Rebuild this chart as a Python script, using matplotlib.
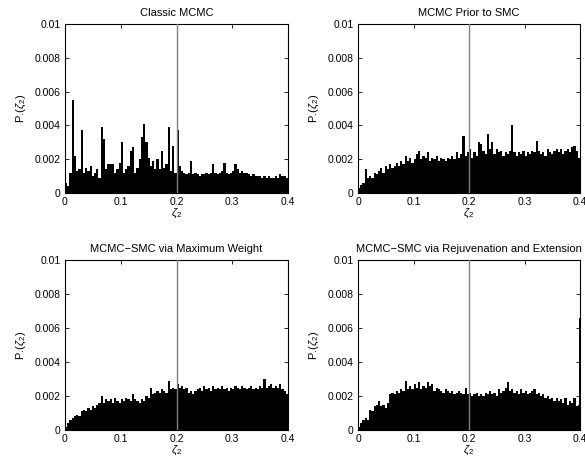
import numpy as np
import matplotlib
matplotlib.use('Agg')
import matplotlib.pyplot as plt
from matplotlib.ticker import FixedLocator, FixedFormatter

plt.rcParams['font.family'] = ['Liberation Sans', 'DejaVu Sans']
plt.rcParams['mathtext.fontset'] = 'custom'
plt.rcParams['mathtext.rm'] = 'Liberation Sans'
plt.rcParams['mathtext.it'] = 'Liberation Sans:italic'

# ---------------- data ----------------
titles = ['Classic MCMC', 'MCMC Prior to SMC',
          'MCMC\u2212SMC via Maximum Weight',
          'MCMC\u2212SMC via Rejuvenation and Extension']

bin_width = 0.004
x_start = 0.0

classic_mcmc = [
    0.0006, 0.0004, 0.0012, 0.0055, 0.0022, 0.0013, 0.0014, 0.0037, 0.0012, 0.0015,
    0.0013, 0.0016, 0.0010, 0.0012, 0.0014, 0.0009, 0.0039, 0.0032, 0.0014, 0.0017,
    0.0017, 0.0017, 0.0012, 0.0014, 0.0018, 0.0030, 0.0012, 0.0014, 0.0016, 0.0025,
    0.0027, 0.0012, 0.0015, 0.0020, 0.0033, 0.0041, 0.0030, 0.0021, 0.0016, 0.0019,
    0.0014, 0.0020, 0.0014, 0.0025, 0.0015, 0.0017, 0.0039, 0.0013, 0.0028, 0.0012,
    0.0037, 0.0016, 0.0013, 0.0012, 0.0011, 0.0012, 0.0019, 0.0011, 0.0012, 0.0011,
    0.0010, 0.0011, 0.0011, 0.0012, 0.0011, 0.0012, 0.0017, 0.0012, 0.0011, 0.0012,
    0.0013, 0.0018, 0.0012, 0.0011, 0.0012, 0.0013, 0.0017, 0.0014, 0.0012, 0.0013,
    0.0012, 0.0012, 0.0011, 0.0010, 0.0011, 0.0010, 0.0010, 0.0010, 0.0009, 0.0010,
    0.0009, 0.0010, 0.0009, 0.0009, 0.0010, 0.0009, 0.0011, 0.0010, 0.0010, 0.0009,
]

mcmc_prior_smc = [
    0.0003, 0.0005, 0.0006, 0.0014, 0.0009, 0.0010, 0.0009, 0.0012, 0.0011, 0.0013,
    0.0015, 0.0012, 0.0016, 0.0014, 0.0017, 0.0015, 0.0016, 0.0018, 0.0016, 0.0019,
    0.0017, 0.0022, 0.0019, 0.0021, 0.0018, 0.0020, 0.0023, 0.0025, 0.0020, 0.0022,
    0.0021, 0.0024, 0.0019, 0.0021, 0.0020, 0.0022, 0.0019, 0.0021, 0.0020, 0.0019,
    0.0021, 0.0020, 0.0022, 0.0020, 0.0024, 0.0021, 0.0023, 0.0034, 0.0022, 0.0024,
    0.0026, 0.0021, 0.0024, 0.0022, 0.0030, 0.0029, 0.0025, 0.0023, 0.0035, 0.0026,
    0.0030, 0.0023, 0.0026, 0.0024, 0.0025, 0.0022, 0.0024, 0.0023, 0.0025, 0.0040,
    0.0024, 0.0022, 0.0024, 0.0023, 0.0025, 0.0022, 0.0024, 0.0023, 0.0025, 0.0024,
    0.0031, 0.0025, 0.0023, 0.0024, 0.0022, 0.0026, 0.0024, 0.0023, 0.0025, 0.0026,
    0.0024, 0.0026, 0.0023, 0.0025, 0.0026, 0.0024, 0.0027, 0.0028, 0.0025, 0.0021,
]

smc_max_weight = [
    0.0002, 0.0004, 0.0006, 0.0007, 0.0008, 0.0009, 0.0008, 0.0011, 0.0012, 0.0011,
    0.0013, 0.0012, 0.0014, 0.0013, 0.0015, 0.0016, 0.0020, 0.0016, 0.0018, 0.0017,
    0.0018, 0.0016, 0.0019, 0.0017, 0.0016, 0.0018, 0.0017, 0.0019, 0.0018, 0.0017,
    0.0021, 0.0018, 0.0017, 0.0016, 0.0018, 0.0017, 0.0020, 0.0019, 0.0025, 0.0021,
    0.0022, 0.0023, 0.0022, 0.0024, 0.0023, 0.0022, 0.0029, 0.0024, 0.0025, 0.0024,
    0.0027, 0.0025, 0.0026, 0.0024, 0.0025, 0.0022, 0.0023, 0.0021, 0.0023, 0.0024,
    0.0025, 0.0023, 0.0026, 0.0024, 0.0025, 0.0023, 0.0026, 0.0024, 0.0025, 0.0024,
    0.0026, 0.0024, 0.0025, 0.0023, 0.0025, 0.0024, 0.0026, 0.0025, 0.0024, 0.0026,
    0.0025, 0.0024, 0.0025, 0.0026, 0.0024, 0.0025, 0.0024, 0.0026, 0.0025, 0.0030,
    0.0025, 0.0026, 0.0027, 0.0025, 0.0026, 0.0025, 0.0027, 0.0024, 0.0023, 0.0021,
]

smc_rejuv_ext = [
    0.0002, 0.0004, 0.0006, 0.0007, 0.0006, 0.0012, 0.0011, 0.0014, 0.0015, 0.0017,
    0.0014, 0.0015, 0.0013, 0.0016, 0.0021, 0.0022, 0.0021, 0.0023, 0.0022, 0.0024,
    0.0023, 0.0029, 0.0024, 0.0026, 0.0024, 0.0027, 0.0025, 0.0028, 0.0024, 0.0026,
    0.0025, 0.0028, 0.0026, 0.0027, 0.0023, 0.0025, 0.0024, 0.0023, 0.0022, 0.0024,
    0.0023, 0.0022, 0.0023, 0.0021, 0.0022, 0.0023, 0.0022, 0.0021, 0.0025, 0.0021,
    0.0022, 0.0020, 0.0021, 0.0022, 0.0020, 0.0021, 0.0020, 0.0022, 0.0021, 0.0023,
    0.0021, 0.0022, 0.0020, 0.0024, 0.0022, 0.0023, 0.0025, 0.0028, 0.0023, 0.0024,
    0.0022, 0.0023, 0.0021, 0.0024, 0.0022, 0.0023, 0.0021, 0.0022, 0.0023, 0.0024,
    0.0021, 0.0022, 0.0020, 0.0021, 0.0019, 0.0020, 0.0018, 0.0019, 0.0017, 0.0019,
    0.0017, 0.0018, 0.0016, 0.0019, 0.0015, 0.0017, 0.0016, 0.0019, 0.0014, 0.0015,
]
# last bin sitting on the right edge of panel 4
rejuv_edge_x = [0.4]
rejuv_edge_val = [0.0066]

series = [classic_mcmc, mcmc_prior_smc, smc_max_weight, smc_rejuv_ext]

marker_x = 0.2
x_ticks = [0, 0.1, 0.2, 0.3, 0.4]
x_tick_labels = ['0', '0.1', '0.2', '0.3', '0.4']
y_ticks = [0, 0.002, 0.004, 0.006, 0.008, 0.01]
y_tick_labels = ['0', '0.002', '0.004', '0.006', '0.008', '0.01']
x_label = r'$\zeta_2$'
y_label = r'P.($\zeta_2$)'

# ---------------- figure ----------------
W, H = 585, 463
fig = plt.figure(figsize=(W / 100, H / 100), dpi=100)

# axes rectangles in pixels: (left, top, right, bottom)
rects_px = [(65, 24, 288, 193), (358, 24, 580, 193),
            (65, 260, 288, 430), (358, 260, 580, 430)]

for k, (vals, title) in enumerate(zip(series, titles)):
    l, t, r, b = rects_px[k]
    ax = fig.add_axes([l / W, 1 - b / H, (r - l) / W, (b - t) / H])
    edges = x_start + bin_width * np.arange(len(vals) + 1)
    ax.stairs(vals, edges, fill=True, color='black', baseline=0)
    if k == 3:
        ax.bar(rejuv_edge_x, rejuv_edge_val, width=bin_width, color='black')
    ax.axvline(marker_x, color='#808080', lw=1.0, zorder=5)
    ax.set_xlim(0, 0.4)
    ax.set_ylim(0, 0.01)
    ax.xaxis.set_major_locator(FixedLocator(x_ticks))
    ax.xaxis.set_major_formatter(FixedFormatter(x_tick_labels))
    ax.yaxis.set_major_locator(FixedLocator(y_ticks))
    ax.yaxis.set_major_formatter(FixedFormatter(y_tick_labels))
    ax.tick_params(direction='in', top=True, right=True, length=3,
                   width=0.6, labelsize=7.5, pad=3)
    for sp in ax.spines.values():
        sp.set_linewidth(0.8)
    ax.set_title(title, fontsize=8, pad=6)
    ax.set_xlabel(x_label, fontsize=8, labelpad=0)
    ax.set_ylabel(y_label, fontsize=8, labelpad=5)

fig.savefig('out.png', dpi=100)
